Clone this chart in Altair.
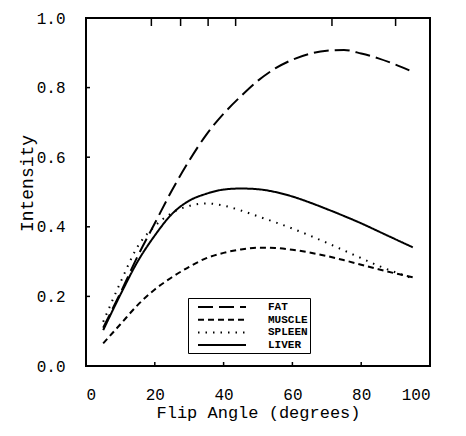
import altair as alt
import pandas as pd

angles = [5, 10, 15, 20, 25, 30, 35, 40, 45, 50, 55, 60, 65, 70, 75, 80, 85, 90, 95]
fat = [0.11, 0.21, 0.315, 0.41, 0.505, 0.59, 0.665, 0.725, 0.775, 0.82, 0.855, 0.88, 0.897, 0.906, 0.908, 0.898, 0.884, 0.866, 0.845]
muscle = [0.065, 0.12, 0.175, 0.22, 0.255, 0.285, 0.31, 0.325, 0.335, 0.34, 0.339, 0.334, 0.326, 0.316, 0.304, 0.291, 0.278, 0.266, 0.255]
spleen = [0.127, 0.24, 0.343, 0.402, 0.44, 0.46, 0.467, 0.461, 0.447, 0.43, 0.413, 0.395, 0.375, 0.354, 0.332, 0.31, 0.288, 0.269, 0.252]
liver = [0.103, 0.205, 0.30, 0.375, 0.437, 0.475, 0.495, 0.507, 0.51, 0.508, 0.50, 0.487, 0.47, 0.451, 0.431, 0.41, 0.387, 0.364, 0.341]

tissues = ["FAT", "MUSCLE", "SPLEEN", "LIVER"]
dashes = [[15, 6], [6, 4], [1.5, 6], [1, 0]]

x_ticks = [0, 20, 40, 60, 80, 100]
y_ticks = [0.0, 0.2, 0.4, 0.6, 0.8, 1.0]
top_ticks = [19, 27.5, 35.5, 43.5, 71.5, 90]

rows = []
for name, vals in zip(tissues, [fat, muscle, spleen, liver]):
    for a, v in zip(angles, vals):
        rows.append({"angle": a, "intensity": v, "tissue": name})
df = pd.DataFrame(rows)

FONT = "Liberation Mono"
W, H = 344, 348

xscale = alt.Scale(domain=[0, 100], nice=False)
yscale = alt.Scale(domain=[0, 1], nice=False)

lines = alt.Chart(df).mark_line(color="black", strokeWidth=2, interpolate="monotone", strokeCap="butt").encode(
    x=alt.X("angle:Q", scale=xscale,
            axis=alt.Axis(values=x_ticks, format="d", title="Flip Angle (degrees)", ticks=False, domain=False,
                          grid=False, labelPadding=20, titlePadding=2, titleFontSize=17)),
    y=alt.Y("intensity:Q", scale=yscale,
            axis=alt.Axis(values=y_ticks, format=".1f", title="Intensity", ticks=False, domain=False,
                          grid=False, labelPadding=21, titlePadding=0, titleY=165, titleFontSize=18)),
    strokeDash=alt.StrokeDash("tissue:N", scale=alt.Scale(domain=tissues, range=dashes),
                              sort=tissues,
                              legend=alt.Legend(title=None, orient="none", legendX=102, legendY=280,
                                                strokeColor="black", padding=2, symbolType="M0.1667,0H8.1667",
                                                symbolSize=144, symbolStrokeWidth=2, symbolStrokeColor="black",
                                                labelFont=FONT, labelFontSize=11, labelFontWeight="bold",
                                                labelColor="black", labelOffset=64, rowPadding=0.7)),
)

bx = alt.Chart(pd.DataFrame({"v": x_ticks[1:-1]})).mark_rule(color="black", strokeWidth=1.5).encode(
    x=alt.X("v:Q", scale=xscale), y=alt.value(H), y2=alt.value(H - 4))
ly = alt.Chart(pd.DataFrame({"v": y_ticks[1:-1]})).mark_rule(color="black", strokeWidth=1.5).encode(
    y=alt.Y("v:Q", scale=yscale), x=alt.value(0), x2=alt.value(4))
tx = alt.Chart(pd.DataFrame({"v": top_ticks})).mark_rule(color="black", strokeWidth=1.5).encode(
    x=alt.X("v:Q", scale=xscale), y=alt.value(0), y2=alt.value(8))

chart = alt.layer(lines, bx, ly, tx).properties(
    width=W, height=H,
    background="white",
    autosize=alt.AutoSizeParams(type="none"),
    padding={"left": 78, "top": 10, "right": 28, "bottom": 62},
).configure_view(stroke="black", strokeWidth=2).configure_axis(
    labelFont=FONT, labelFontSize=16, labelColor="black",
    titleFont=FONT, titleColor="black", titleFontWeight="normal",
)

chart.save("out.html", embed_options={"renderer": "svg", "actions": False})
